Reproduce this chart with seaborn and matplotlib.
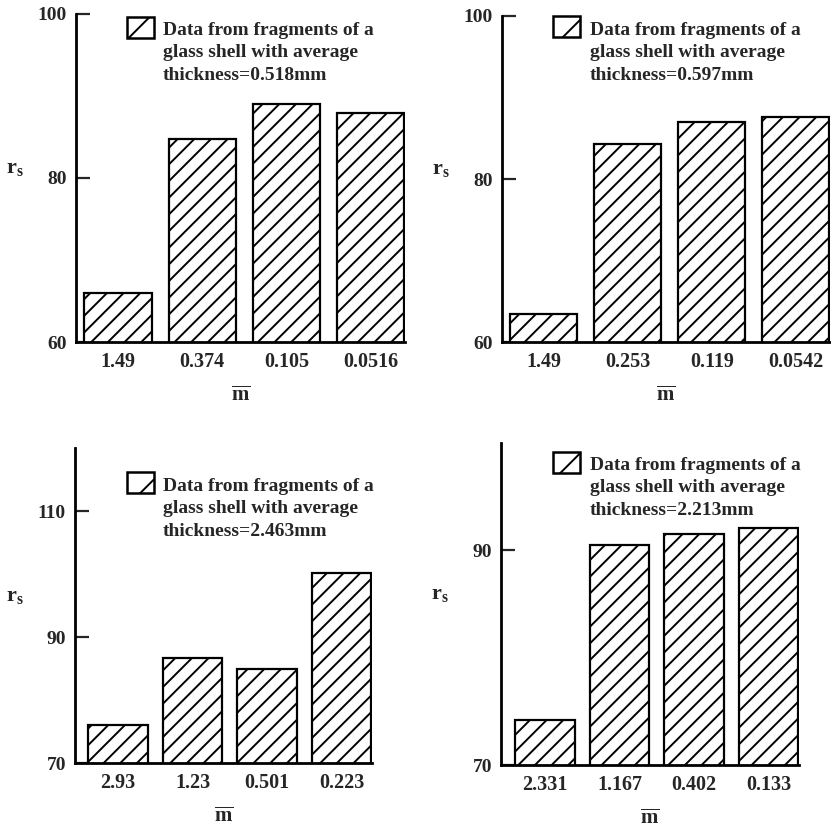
import matplotlib
matplotlib.use("Agg")
import matplotlib.pyplot as plt
from matplotlib.patches import Rectangle
import seaborn as sns

# --------------------------------------------------------
# Data (r_s vs m-bar)
# --------------------------------------------------------
m_bar_a = ["1.49", "0.374", "0.105", "0.0516"]
rs_a = [66.0, 84.7, 89.0, 87.9]

m_bar_b = ["1.49", "0.253", "0.119", "0.0542"]
rs_b = [63.4, 84.3, 87.0, 87.6]

m_bar_c = ["2.93", "1.23", "0.501", "0.223"]
rs_c = [76.1, 86.6, 85.0, 100.2]

m_bar_d = ["2.331", "1.167", "0.402", "0.133"]
rs_d = [74.2, 90.5, 91.5, 92.1]

thickness = ["0.518", "0.597", "2.463", "2.213"]
y_limits = [(60, 100), (60, 100), (70, 120), (70, 100)]
y_ticks = [[60, 80, 100], [60, 80, 100], [70, 90, 110], [70, 90]]

# --------------------------------------------------------
# Layout (figure pixels)
# --------------------------------------------------------
W, H = 831, 833
panels_px = [(76, 14, 405, 342), (502, 16, 830, 342),
             (75, 448, 372, 763), (501, 443, 799, 765)]
x_left = [-0.5, -0.5, -0.58, -0.59]
ylabel_x_px = [15, 441, 15, 440]
legend_px = [(127, 17, 163, 22), (553, 16, 590, 22),
             (127, 472, 163, 478), (553, 452, 590, 457)]

sns.set_style("ticks")
plt.rcParams["font.family"] = ["Liberation Serif", "DejaVu Serif"]
plt.rcParams["font.weight"] = "bold"
plt.rcParams["mathtext.fontset"] = "custom"
plt.rcParams["mathtext.rm"] = "Liberation Serif:bold"
plt.rcParams["mathtext.it"] = "Liberation Serif:italic:bold"
plt.rcParams["mathtext.bf"] = "Liberation Serif:bold"
plt.rcParams["hatch.linewidth"] = 1.4
plt.rcParams["hatch.color"] = "black"


def fig_rect(l, t, r, b):
    return [l / W, 1 - b / H, (r - l) / W, (b - t) / H]


def draw_panel(fig, i, labels, values):
    l, t, r, b = panels_px[i]
    ax = fig.add_axes(fig_rect(l, t, r, b))
    sns.barplot(x=labels, y=values, order=labels, ax=ax, color="white",
                saturation=1, edgecolor="black", linewidth=1.6, width=0.8)
    for bar in ax.patches:
        bar.set_hatch("//")

    ax.set_ylim(*y_limits[i])
    ax.set_yticks(y_ticks[i])
    ax.set_xlim(x_left[i], 3.41)
    sns.despine(ax=ax)
    for side in ["left", "bottom"]:
        ax.spines[side].set_linewidth(2.0)
        ax.spines[side].set_color("black")

    ax.tick_params(axis="y", direction="in", length=10, width=1.6,
                   pad=6.5, labelsize=14)
    ax.tick_params(axis="x", length=0, pad=7, labelsize=14.5)

    ax.set_ylabel(r"$\mathrm{r_s}$", rotation=0, fontsize=16)
    ax.yaxis.set_label_coords((ylabel_x_px[i] - l) / (r - l), 0.5)
    ax.set_xlabel(r"$\overline{\mathrm{m}}$", fontsize=15)
    ax.xaxis.set_label_coords(0.5, -44 / (b - t))

    # legend key + text
    hx, hy, tx, ty = legend_px[i]
    fig.patches.append(Rectangle((hx / W, 1 - (hy + 21) / H), 27 / W, 21 / H,
                                 transform=fig.transFigure, facecolor="white",
                                 edgecolor="black", hatch="/", linewidth=1.8))
    fig.text(tx / W, 1 - ty / H,
             "Data from fragments of a\nglass shell with average\n"
             f"thickness={thickness[i]}mm",
             ha="left", va="top", fontsize=14, linespacing=1.42,
             fontweight="bold")
    return ax


def main():
    fig = plt.figure(figsize=(W / 100, H / 100), dpi=100)
    draw_panel(fig, 0, m_bar_a, rs_a)
    draw_panel(fig, 1, m_bar_b, rs_b)
    draw_panel(fig, 2, m_bar_c, rs_c)
    draw_panel(fig, 3, m_bar_d, rs_d)
    fig.savefig("out.png", dpi=100)
    plt.close(fig)


if __name__ == "__main__":
    main()
